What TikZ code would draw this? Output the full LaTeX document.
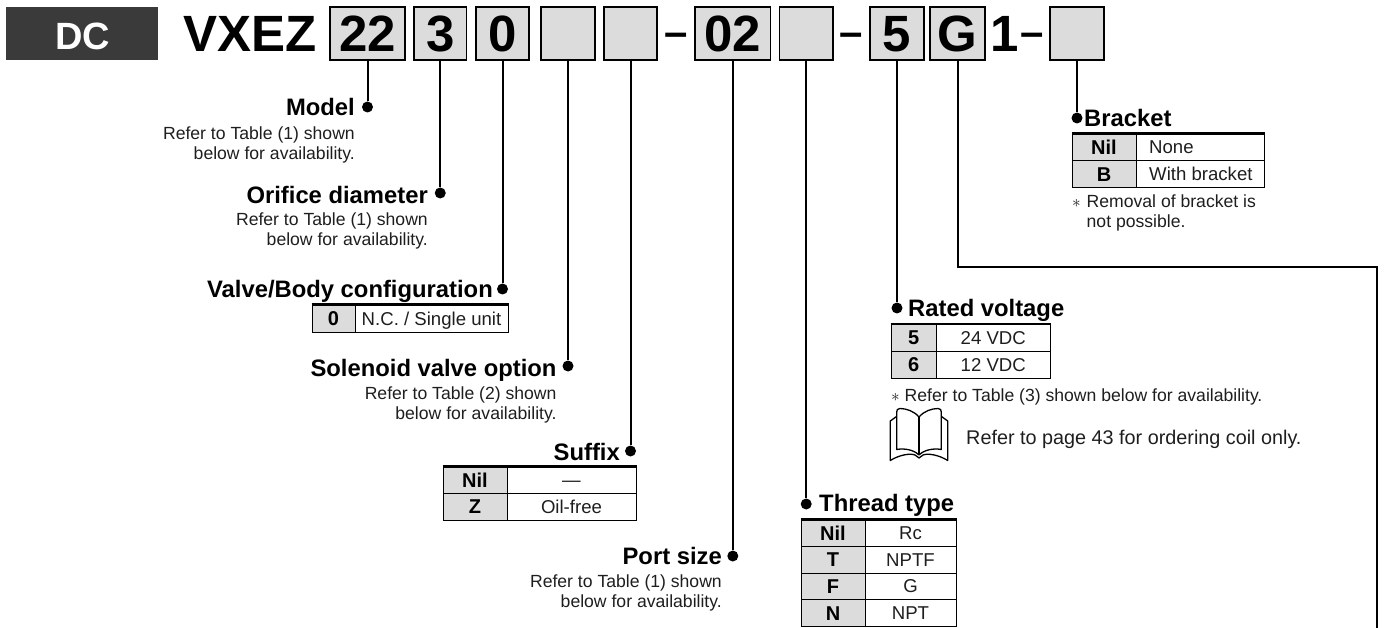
\documentclass[tikz,border=0pt]{standalone}
\usepackage{fontspec}
\setmainfont{Liberation Sans}
\definecolor{keygray}{HTML}{DCDCDC}
\definecolor{dcgray}{HTML}{3A3A3A}
\definecolor{bodytext}{HTML}{1E1E1E}
\newcommand{\fs}[1]{\fontsize{#1}{#1}\selectfont}
\newcommand{\tcell}[7]{\node[#6,minimum width={(#4-#2)*1pt},minimum height={(#5-#3)*1pt}] (#1) at ({(#2+#4)/2},{(#3+#5)/2}) {#7};}
\newcommand{\tcode}[3]{\node[codebox,minimum width={(#3-#2)*1pt}] (#1) at ({(#2+#3)/2},33.5) {};}
\tikzset{
  codebox/.style={draw=black,line width=1.7pt,fill=keygray,minimum height=53pt,inner sep=0pt},
  bigtext/.style={anchor=base,inner sep=0pt,font=\bfseries\fs{51}},
  dashtext/.style={anchor=base,inner sep=0pt,font=\bfseries\fs{42}},
  head/.style={inner sep=0pt,font=\bfseries\fs{23.8}},
  headl/.style={head,anchor=base west},
  headr/.style={head,anchor=base east},
  note/.style={inner sep=0pt,font=\fs{17.6},text=bodytext},
  noter/.style={note,anchor=base east},
  notel/.style={note,anchor=base west},
  tabletext/.style={anchor=base west,inner sep=0pt,font=\fs{18.6},text=bodytext},
  dot/.style={circle,fill=black,inner sep=0pt,minimum size=11pt},
  conn/.style={line width=2pt,draw=black},
  keycell/.style={draw=black,line width=1pt,fill=keygray,inner sep=0pt,text height=14pt,text depth=0pt,font=\bfseries\fs{20}},
  valcell/.style={draw=black,line width=1pt,inner sep=0pt,text height=13.2pt,text depth=0pt,font=\fs{18.6},text=bodytext},
  topline/.style={line width=2.2pt,draw=black},
}
\begin{document}
\begin{tikzpicture}[x=1pt,y=-1pt]
\useasboundingbox (0,0) rectangle (1392,628);
% DC tag
\node[fill=dcgray,minimum width=152pt,minimum height=53pt,inner sep=0pt] (dctag) at (82,33.5) {};
\node[anchor=base,inner sep=0pt,text=white,font=\bfseries\fs{38}] (dctext) at (83,50) {DC};
% part number
\node[bigtext,anchor=base west] (vxez) at (183,52) {VXEZ};
\tcode{b22}{330}{405}
\tcode{b3}{414}{466.5}
\tcode{b0}{476}{529}
\tcode{be}{541}{595}
\tcode{bs}{604}{657}
\tcode{b02}{695}{770.6}
\tcode{bt}{779.4}{833}
\tcode{bv}{870}{924}
\tcode{bg}{930}{985}
\tcode{bb}{1050}{1104}
\node[bigtext] (t22) at (b22.center |- 0,52) {22};
\node[bigtext] (t3) at (b3.center |- 0,52) {3};
\node[bigtext] (t0) at (b0.center |- 0,52) {0};
\node[bigtext] (t02) at (b02.center |- 0,52) {02};
\node[bigtext] (t5) at (bv.center |- 0,52) {5};
\node[bigtext] (tg) at (bg.center |- 0,52) {G};
\node[bigtext] (t1) at (1005,52) {1};
\node[dashtext] (d1) at (676,47) {–};
\node[dashtext] (d2) at (851,47) {–};
\node[dashtext] (d3) at (1032,47) {–};
% dots
\node[dot] (dmodel) at (b22.south |- 0,107) {};
\node[dot] (dorif) at (b3.south |- 0,193) {};
\node[dot] (dvalve) at (b0.south |- 0,289) {};
\node[dot] (dsol) at (be.south |- 0,366) {};
\node[dot] (dsuf) at (bs.south |- 0,451) {};
\node[dot] (dport) at (b02.south |- 0,556) {};
\node[dot] (dthread) at (bt.south |- 0,504) {};
\node[dot] (drated) at (bv.south |- 0,308) {};
\node[dot] (dbracket) at (bb.south |- 0,118) {};
\coordinate (gturn) at (1376.5,267);
\coordinate (gend) at (1376.5,628);
% connectors
\draw[conn] (b22.south) -- (dmodel);
\draw[conn] (b3.south) -- (dorif);
\draw[conn] (b0.south) -- (dvalve);
\draw[conn] (be.south) -- (dsol);
\draw[conn] (bs.south) -- (dsuf);
\draw[conn] (b02.south) -- (dport);
\draw[conn] (bt.south) -- (dthread);
\draw[conn] (bv.south) -- (drated);
\draw[conn] (bb.south) -- (dbracket);
\draw[conn] (bg.south) |- (gturn) -- (gend);
% left column
\node[headr] (hmodel) at (355,116) {Model};
\node[noter] (n1a) at (355,139.5) {Refer to Table (1) shown};
\node[noter] (n1b) at (355,159.5) {below for availability.};
\node[headr] (horif) at (428,204) {Orifice diameter};
\node[noter] (n2a) at (428,226) {Refer to Table (1) shown};
\node[noter] (n2b) at (428,246) {below for availability.};
\node[headr] (hvalve) at (493,298) {Valve/Body configuration};
\tcell{v0}{312}{305}{355}{332}{keycell}{0}
\tcell{v1}{355}{305}{508}{332}{valcell}{N.C. / Single unit}
\draw[topline] (v0.north west) -- (v1.north east);
\node[headr] (hsol) at (556.7,376) {Solenoid valve option};
\node[noter] (n3a) at (556.7,399.5) {Refer to Table (2) shown};
\node[noter] (n3b) at (556.7,419) {below for availability.};
\node[headr] (hsuf) at (620,460) {Suffix};
\tcell{s0}{443}{467}{507}{493.7}{keycell}{Nil}
\tcell{s1}{507}{467}{636}{493.7}{valcell}{—}
\tcell{s2}{443}{493.7}{507}{520}{keycell}{Z}
\tcell{s3}{507}{493.7}{636}{520}{valcell}{Oil-free}
\draw[topline] (s0.north west) -- (s1.north east);
\node[headr] (hport) at (722,564) {Port size};
\node[noter] (n4a) at (722,587) {Refer to Table (1) shown};
\node[noter] (n4b) at (722,607) {below for availability.};
% thread
\node[headl] (hthread) at (819,511.5) {Thread type};
\tcell{th0}{801}{520}{865}{546.7}{keycell}{Nil}
\tcell{th1}{865}{520}{956}{546.7}{valcell}{Rc}
\tcell{th2}{801}{546.7}{865}{573}{keycell}{T}
\tcell{th3}{865}{546.7}{956}{573}{valcell}{NPTF}
\tcell{th4}{801}{573}{865}{599.5}{keycell}{F}
\tcell{th5}{865}{573}{956}{599.5}{valcell}{G}
\tcell{th6}{801}{599.5}{865}{626.5}{keycell}{N}
\tcell{th7}{865}{599.5}{956}{626.5}{valcell}{NPT}
\draw[topline] (th0.north west) -- (th1.north east);
% rated voltage
\node[headl] (hrated) at (908,316.5) {Rated voltage};
\tcell{r0}{891}{324}{936.5}{351.3}{keycell}{5}
\tcell{r1}{936.5}{324}{1050}{351.3}{valcell}{24 VDC}
\tcell{r2}{891}{351.3}{936.5}{378}{keycell}{6}
\tcell{r3}{936.5}{351.3}{1050}{378}{valcell}{12 VDC}
\draw[line width=1.6pt] (r0.north west) -- (r1.north east);
\node[notel] (n5) at (891,401.5) {$\ast$ Refer to Table (3) shown below for availability.};
\node[anchor=base west,inner sep=0pt,font=\fs{19.8},text=bodytext] (n6) at (966,444) {Refer to page 43 for ordering coil only.};
% book icon
\begin{scope}[line width=1.3pt,draw=black,line join=round]
\draw (919,417) .. controls (914,411) and (906,408.5) .. (900,408.5) .. controls (897.5,408.5) and (896.7,410) .. (896.7,412) -- (896.7,449.5) .. controls (905,448) and (914,450) .. (919,455);
\draw (919,417) .. controls (924,411) and (932,408.5) .. (938,408.5) .. controls (940.5,408.5) and (941.3,410) .. (941.3,412) -- (941.3,449.5) .. controls (933,448) and (924,450) .. (919,455);
\draw (919,417) -- (919,455);
\draw (896.5,416.5) -- (890.3,421) -- (890.3,460.5) .. controls (899,455) and (910,453) .. (915,455) -- (919,458) -- (923,455) .. controls (928,453) and (939,455) .. (947.7,460.5) -- (947.7,421) -- (941.5,416.5);
\end{scope}
% bracket
\node[headl] (hbracket) at (1084,127) {Bracket};
\tcell{k0}{1072}{134}{1136}{161}{keycell}{Nil}
\tcell{k1}{1136}{134}{1264.4}{161}{valcell}{}
\tcell{k2}{1072}{161}{1136}{187.7}{keycell}{B}
\tcell{k3}{1136}{161}{1264.4}{187.7}{valcell}{}
\node[tabletext] (kt1) at (1149,153.5) {None};
\node[tabletext] (kt2) at (1149,180.5) {With bracket};
\draw[topline] (k0.north west) -- (k1.north east);
\node[notel] (n7a) at (1072,208) {$\ast$};
\node[notel] (n7b) at (1086.5,208) {Removal of bracket is};
\node[notel] (n7c) at (1086.5,228) {not possible.};
\end{tikzpicture}
\end{document}
